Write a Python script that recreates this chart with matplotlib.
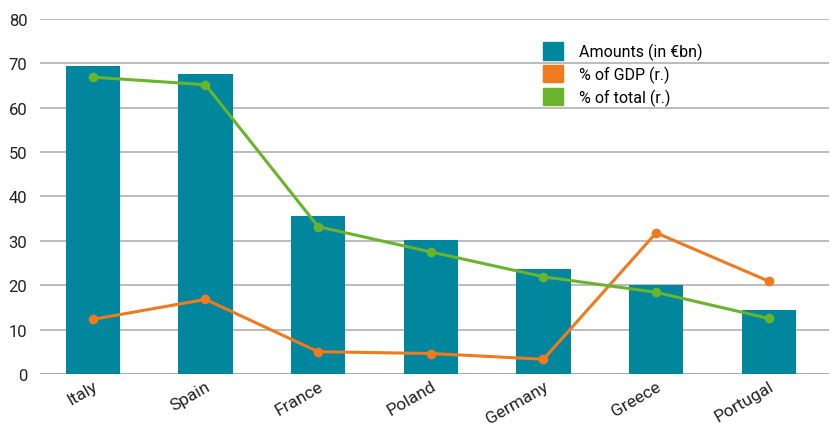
import matplotlib

matplotlib.use("Agg")
import matplotlib.pyplot as plt
from matplotlib.patches import Patch

plt.rcParams["font.family"] = ["Roboto", "DejaVu Sans"]

countries = ["Italy", "Spain", "France", "Poland", "Germany", "Greece", "Portugal"]
amounts = [69.4, 67.6, 35.5, 30.1, 23.7, 20.0, 14.3]
pct_gdp = [12.3, 16.8, 5.0, 4.6, 3.3, 31.8, 20.9]
pct_total = [66.9, 65.2, 33.2, 27.5, 21.9, 18.4, 12.5]

teal = "#00879D"
orange = "#F07A1D"
green = "#69B32D"

fig = plt.figure(figsize=(8.31, 4.27), dpi=100)
ax = fig.add_axes([0.048, 0.122, 0.949, 0.831])

x = list(range(len(countries)))
ax.bar(x, amounts, width=0.48, color=teal, zorder=2)
ax.plot(x, pct_gdp, color=orange, lw=2.2, marker="o", ms=6, zorder=3)
ax.plot(x, pct_total, color=green, lw=2.2, marker="o", ms=6, zorder=3)

ax.set_xlim(-0.47, 6.53)
ax.set_ylim(0, 80)
ax.set_yticks(range(0, 81, 10))
ax.grid(axis="y", color="#b0b0b0", lw=1.2, zorder=0)
ax.axhline(0, color="#999999", lw=1.5, zorder=1)
for s in ax.spines.values():
    s.set_visible(False)
ax.tick_params(axis="both", length=0, colors="#222222")
ax.tick_params(axis="y", pad=9, labelsize=12)
ax.tick_params(axis="x", pad=3, labelsize=12.5)
ax.set_xticks(x)
ax.set_xticklabels(countries, rotation=30, ha="right", rotation_mode="anchor")

handles = [
    Patch(color=teal, label="Amounts (in €bn)"),
    Patch(color=orange, label="% of GDP (r.)"),
    Patch(color=green, label="% of total (r.)"),
]
ax.legend(handles=handles, loc="upper left", bbox_to_anchor=(0.62, 0.975),
          frameon=False, fontsize=11.5, handlelength=1.25, handleheight=1.3,
          labelspacing=0.3, handletextpad=1.0)

fig.savefig("out.png", dpi=100)
plt.close(fig)
